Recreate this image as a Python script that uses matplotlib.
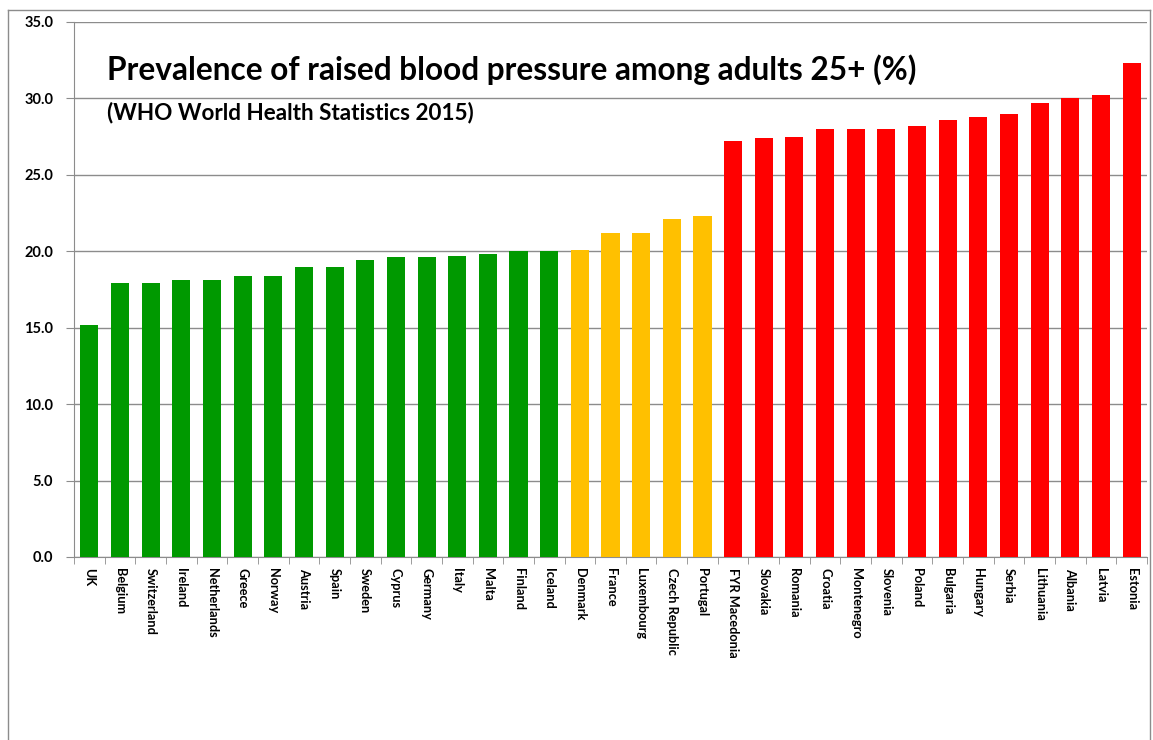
import numpy as np
import matplotlib
matplotlib.use("Agg")
import matplotlib.pyplot as plt
from matplotlib.lines import Line2D

countries = ["UK", "Belgium", "Switzerland", "Ireland", "Netherlands", "Greece",
             "Norway", "Austria", "Spain", "Sweden", "Cyprus", "Germany", "Italy",
             "Malta", "Finland", "Iceland", "Denmark", "France", "Luxembourg",
             "Czech Republic", "Portugal", "FYR Macedonia", "Slovakia", "Romania",
             "Croatia", "Montenegro", "Slovenia", "Poland", "Bulgaria", "Hungary",
             "Serbia", "Lithuania", "Albania", "Latvia", "Estonia"]
values = [15.2, 17.9, 17.9, 18.1, 18.1, 18.4, 18.4, 19.0, 19.0, 19.4, 19.6, 19.6,
          19.7, 19.8, 20.0, 20.0, 20.1, 21.2, 21.2, 22.1, 22.3, 27.2, 27.4, 27.5,
          28.0, 28.0, 28.0, 28.2, 28.6, 28.8, 29.0, 29.7, 30.0, 30.2, 32.3]
# group of each country: 0 = green, 1 = amber, 2 = red
groups = [0] * 16 + [1] * 5 + [2] * 14

group_colors = ["#009900", "#FFC000", "#FF0000"]
yticks = [0, 5, 10, 15, 20, 25, 30, 35]

plt.rcParams['font.family'] = ['Lato', 'DejaVu Sans']

fig = plt.figure(figsize=(11.53, 7.4), dpi=100)
ax = fig.add_axes([74 / 1153, 1 - 557 / 740, 1073 / 1153, 535 / 740])

x = np.arange(len(countries))
colors = [group_colors[g] for g in groups]
ax.bar(x, values, width=0.59, color=colors, zorder=3)

ax.set_xlim(-0.5, len(countries) - 0.5)
ax.set_ylim(0, 35)
ax.set_yticks(yticks)
ax.set_yticklabels(["%.1f" % v for v in yticks], fontsize=10.5, fontweight='bold')
ax.yaxis.grid(True, color="#8c8c8c", linewidth=1, zorder=0)

ax.set_xticks(x)
ax.set_xticklabels(countries, rotation=-90, fontsize=9.2, fontweight='bold',
                   va='top', ha='center')
ax.tick_params(axis='x', which='major', length=0, pad=8)
ax.set_xticks(np.arange(-0.5, len(countries), 1.0), minor=True)
ax.tick_params(axis='x', which='minor', length=5, color="#8c8c8c")
ax.tick_params(axis='y', length=6, color="#8c8c8c", pad=9)

for s in ["top", "right"]:
    ax.spines[s].set_visible(False)
for s in ["left", "bottom"]:
    ax.spines[s].set_color("#8c8c8c")

fig.text(107 / 1153, 1 - 70 / 740, "Prevalence of raised blood pressure among adults 25+ (%)",
         fontsize=22.8, fontweight='bold', va='center', ha='left')
fig.text(107 / 1153, 1 - 113 / 740, "(WHO World Health Statistics 2015)",
         fontsize=16.2, fontweight='bold', va='center', ha='left')

# outer chart-area border
bx0, bx1, by1 = 8 / 1153, 1150 / 1153, 1 - 10 / 740
fig.add_artist(Line2D([bx0, bx0], [0, by1], color="#8c8c8c", linewidth=1))
fig.add_artist(Line2D([bx0, bx1], [by1, by1], color="#8c8c8c", linewidth=1))
fig.add_artist(Line2D([bx1, bx1], [0, by1], color="#8c8c8c", linewidth=1))

fig.savefig("out.png", dpi=100)
